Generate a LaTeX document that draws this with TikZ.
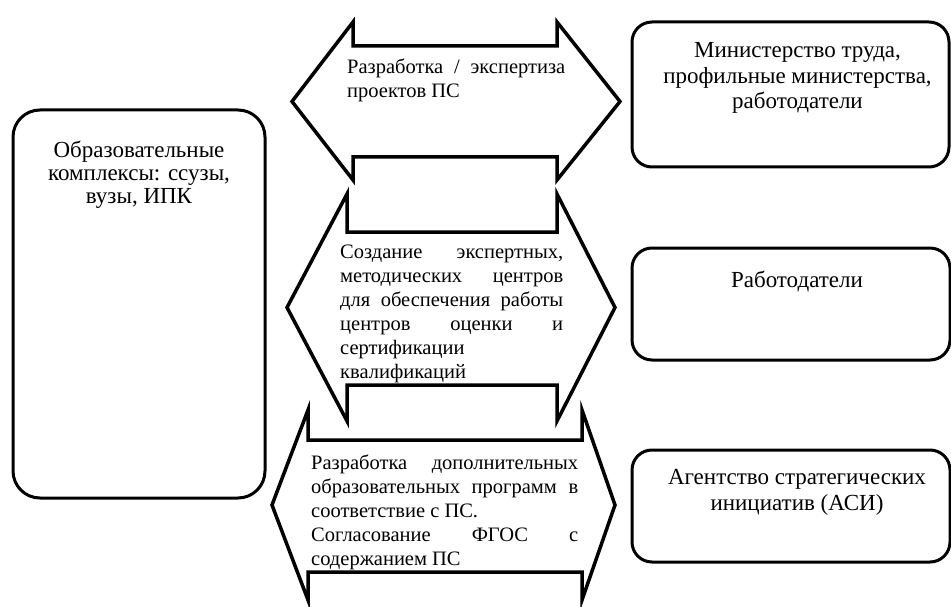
\documentclass[tikz,border=0pt]{standalone}
\usepackage{fontspec}
\setmainfont{Liberation Serif}
\usetikzlibrary{positioning}
\hyphenpenalty=10000
\exhyphenpenalty=10000

\begin{document}
\begin{tikzpicture}[x=1pt, y=-1pt,
    box/.style={draw, line width=3pt, rounded corners=20pt},
    boxtext/.style={align=center, inner sep=0pt,
        font=\fontsize{23}{25.5}\selectfont},
    arrowtext/.style={align=justify, inner sep=0pt, anchor=north west,
        font=\fontsize{20.5}{24}\selectfont},
    arrowshape/.style={draw, fill=white, line width=3.5pt}]
    \clip (0,0) rectangle (951,607);

    % Left box
    \node [box,
        rounded corners=27pt,
        minimum width=252pt,
        minimum height=388pt
    ]  (Complexes) at (139,304) {};
    \node [boxtext,
        font=\fontsize{23}{23}\selectfont,
        below=32pt of Complexes.north
    ]  (ComplexesText) {Образовательные\\комплексы: ссузы,\\вузы, ИПК};

    % Right boxes
    \node [box,
        minimum width=317pt,
        minimum height=145pt
    ]  (Ministry) at (790.5,94.5) {};
    \node [boxtext,
        below=22pt of Ministry.north,
        xshift=7pt
    ]  (MinistryText) {Министерство труда,\\профильные министерства,\\работодатели};
    \node [box,
        minimum width=318pt,
        minimum height=112pt
    ]  (Employers) at (791,304) {};
    \node [boxtext,
        below=24pt of Employers.north,
        xshift=6pt
    ]  (EmployersText) {Работодатели};
    \node [box,
        minimum width=318pt,
        minimum height=112pt
    ]  (Agency) at (791,506) {};
    \node [boxtext,
        below=21pt of Agency.north,
        xshift=6pt
    ]  (AgencyText) {Агентство стратегических\\инициатив (АСИ)};

    % Double arrows
    \draw [arrowshape] (272,505) -- (308,410) -- (308,440) -- (582,440)
        -- (582,410) -- (615,505) -- (582,600) -- (582,572) -- (308,572)
        -- (308,600) -- cycle;
    \draw [arrowshape] (287,307.5) -- (347,194) -- (347,232) -- (557,232)
        -- (557,194) -- (615,307.5) -- (557,421) -- (557,385) -- (347,385)
        -- (347,421) -- cycle;
    \draw [arrowshape] (292,101.5) -- (353,22) -- (353,46) -- (557,46)
        -- (557,22) -- (620,101.5) -- (557,180) -- (557,157) -- (353,157)
        -- (353,180) -- cycle;

    % Arrow texts
    \node [arrowtext,
        text width=218pt
    ]  (DraftText) at (347,59) {Разработка / экспертиза\linebreak проектов ПС};
    \node [arrowtext,
        text width=223pt
    ]  (CentresText) at (340,245) {Создание экспертных,\linebreak
        методических центров\linebreak для обеспечения работы\linebreak
        центров оценки и\linebreak сертификации\\ квалификаций};
    \node [arrowtext,
        text width=267pt
    ]  (ProgramsText) at (311,455) {Разработка дополнительных\linebreak
        образовательных программ в\linebreak соответствие с ПС.\\
        Согласование ФГОС с\linebreak содержанием ПС};
\end{tikzpicture}
\end{document}
